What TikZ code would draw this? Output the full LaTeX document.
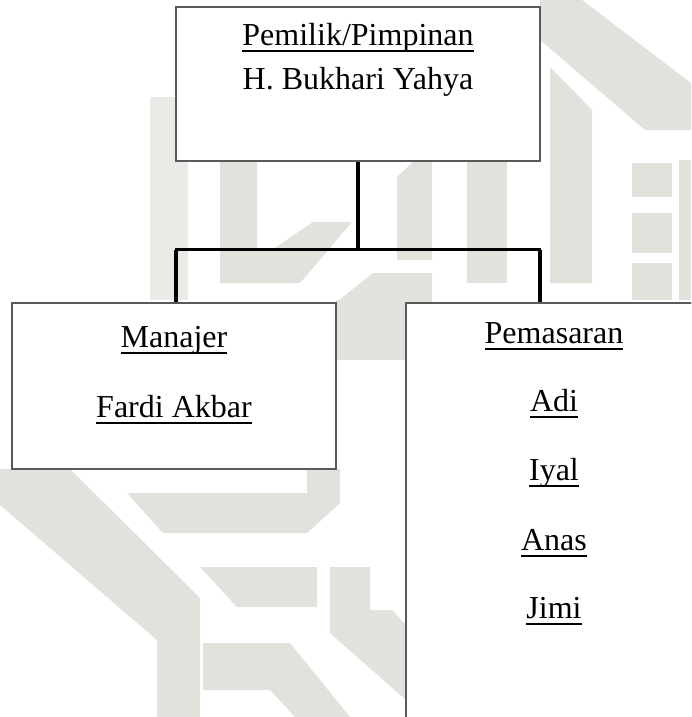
\documentclass[tikz,border=0pt]{standalone}
\usepackage{fontspec}
\setmainfont{Liberation Serif}
\definecolor{wm}{RGB}{224,226,220}
\definecolor{boxline}{RGB}{90,90,90}
\newsavebox\ulbox
\newcommand\ulx[1]{\sbox\ulbox{#1}\rlap{\rule[-6.6pt]{\wd\ulbox}{2pt}}\usebox\ulbox}
\tikzset{
  orgbox/.style={draw=boxline, line width=1.1pt, fill=white, rectangle, inner sep=0pt},
  lbl/.style={anchor=base, inner sep=0pt, font=\fontsize{32}{38}\selectfont},
  thickline/.style={line width=4pt, black},
  thinline/.style={line width=2.2pt, black},
  wmark/.style={fill=wm, draw=none}
}
\begin{document}
\begin{tikzpicture}[x=1pt,y=-1pt]
\useasboundingbox (0,0) rectangle (691,717);
\clip (0,0) rectangle (691,717);
\fill[white] (0,0) rectangle (691,717);
% watermark
\fill[wmark, fill=wm!70] (150,97) rectangle (188,300);
\fill[wmark] (220,150) -- (257,150) -- (257,250) -- (272,250) -- (313,222) -- (352,222) -- (300,283) -- (220,283) -- cycle;
\fill[wmark] (397,177) -- (413,162) -- (432,162) -- (432,260) -- (397,260) -- cycle;
\fill[wmark] (333,305) -- (373,273) -- (432,273) -- (432,305) -- cycle;
\fill[wmark] (467,161) rectangle (507,283);
\fill[wmark] (550,67) -- (592,110) -- (592,283) -- (550,283) -- cycle;
\fill[wmark] (540,0) -- (582,0) -- (691,83) -- (691,130) -- (645,130) -- (540,40) -- cycle;
\fill[wmark] (632,163) rectangle (672,197);
\fill[wmark] (632,213) rectangle (672,253);
\fill[wmark] (632,263) rectangle (672,300);
\fill[wmark] (679,160) rectangle (691,300);
\fill[wmark] (336,300) rectangle (406,360);
\fill[wmark] (127,493) -- (307,493) -- (307,469) -- (340,469) -- (340,503) -- (307,533) -- (163,533) -- cycle;
\fill[wmark] (0,469) -- (70,469) -- (200,598) -- (200,717) -- (157,717) -- (157,640) -- (0,505) -- cycle;
\fill[wmark] (200,567) -- (317,567) -- (317,607) -- (237,607) -- cycle;
\fill[wmark] (330,567) -- (370,567) -- (370,610) -- (392,610) -- (406,625) -- (406,700) -- (330,633) -- cycle;
\fill[wmark] (203,643) -- (290,643) -- (350,717) -- (295,717) -- (270,690) -- (203,690) -- cycle;
% boxes
\node[orgbox, minimum width=364pt, minimum height=154pt] (top) at (358,84) {};
\node[orgbox, minimum width=324pt, minimum height=166pt] (mgr) at (174,386) {};
\node[orgbox, minimum width=296pt, minimum height=437pt] (mkt) at (554,521.5) {};
% texts
\node[lbl] (t1) at (358,45.5) {\ulx{Pemilik/Pimpinan}};
\node[lbl] (t2) at (358,89) {H. Bukhari Yahya};
\node[lbl] (m1) at (174,347) {\ulx{Manajer}};
\node[lbl] (m2) at (174,417) {\ulx{Fardi Akbar}};
\node[lbl] (p0) at (554,343) {\ulx{Pemasaran}};
\node[lbl] (p1) at (554,411) {\ulx{Adi}};
\node[lbl] (p2) at (554,480) {\ulx{Iyal}};
\node[lbl] (p3) at (554,550) {\ulx{Anas}};
\node[lbl] (p4) at (554,618) {\ulx{Jimi}};
% connectors
\coordinate (jm) at (358,249.5);
\coordinate (jl) at (176,249.5);
\coordinate (jr) at (540,249.5);
\draw[thickline] (top.south) -- ([yshift=1pt]jm);
\draw[thinline] ([xshift=-1pt]jl) -- ([xshift=1pt]jr);
\draw[thickline] (jl) -- (jl |- mgr.north);
\draw[thickline] (jr) -- (jr |- mkt.north);
\end{tikzpicture}
\end{document}
